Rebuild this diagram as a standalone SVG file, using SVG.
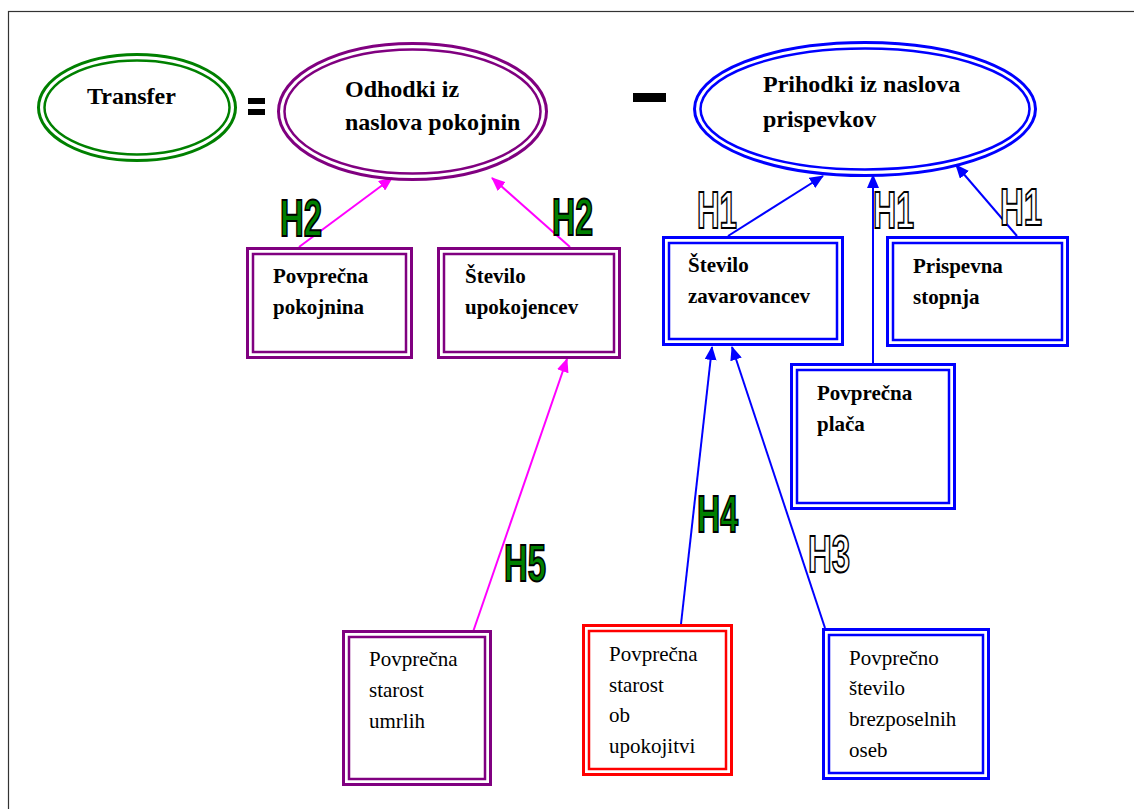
<svg xmlns="http://www.w3.org/2000/svg" width="1134" height="809" viewBox="0 0 1134 809">
<style>
.bg{fill:#fff}
.frame{fill:none;stroke:#333;stroke-width:1.2}
.o{fill:none;stroke-width:3}
.i{fill:none;stroke-width:2.5}
.pu{stroke:#800080}
.bl{stroke:#0000ff}
.rd{stroke:#ff0000}
.gr{stroke:#008000}
.tb{font-family:"Liberation Serif","Times New Roman",serif;font-weight:bold;font-size:21px;fill:#000}
.te{font-family:"Liberation Serif","Times New Roman",serif;font-weight:bold;font-size:24px;fill:#000}
.tn{font-family:"Liberation Serif","Times New Roman",serif;font-size:21px;fill:#000}
.lab{font-family:"Liberation Sans",Arial,sans-serif;font-weight:bold;font-size:51px;stroke:#000;stroke-width:2}
.lg{fill:#008000}
.lw{fill:#fff}
.cm{stroke:#ff00ff;stroke-width:2;fill:none}
.cb{stroke:#0000ff;stroke-width:2;fill:none}
</style>
<defs>
<marker id="am" markerWidth="14" markerHeight="12" refX="13" refY="6" orient="auto" markerUnits="userSpaceOnUse"><path d="M0,0 L14,6 L0,12 z" fill="#ff00ff"/></marker>
<marker id="ab" markerWidth="14" markerHeight="12" refX="13" refY="6" orient="auto" markerUnits="userSpaceOnUse"><path d="M0,0 L14,6 L0,12 z" fill="#0000ff"/></marker>
</defs>
<rect class="bg" x="0" y="0" width="1134" height="809"/>
<rect class="frame" x="8.5" y="11.5" width="1200" height="900"/>

<g id="connectors">
<line class="cm" x1="299" y1="247" x2="392" y2="178" marker-end="url(#am)"/>
<line class="cm" x1="570" y1="247" x2="492" y2="178" marker-end="url(#am)"/>
<line class="cm" x1="473" y1="632" x2="567" y2="359" marker-end="url(#am)"/>
<line class="cb" x1="728" y1="236" x2="823" y2="176" marker-end="url(#ab)"/>
<line class="cb" x1="873" y1="363" x2="873" y2="175" marker-end="url(#ab)"/>
<line class="cb" x1="1017" y1="236" x2="956" y2="165" marker-end="url(#ab)"/>
<line class="cb" x1="681" y1="624" x2="712" y2="347" marker-end="url(#ab)"/>
<line class="cb" x1="825" y1="628" x2="732" y2="347" marker-end="url(#ab)"/>
</g>

<g id="operators">
<rect x="248" y="98" width="17" height="6" fill="#000"/>
<rect x="248" y="109" width="17" height="6" fill="#000"/>
<rect x="633" y="93" width="33" height="9" fill="#000"/>
</g>

<g id="transfer">
<ellipse class="o gr" cx="137" cy="107.5" rx="98.5" ry="53"/>
<ellipse class="i gr" cx="137" cy="107.5" rx="92.5" ry="47"/>
<text class="te" x="87" y="104">Transfer</text>
</g>

<g id="odhodki">
<ellipse class="o pu" cx="412.5" cy="111.5" rx="134" ry="68"/>
<ellipse class="i pu" cx="412.5" cy="111.5" rx="128" ry="62"/>
<text class="te" x="345" y="97">Odhodki iz</text>
<text class="te" x="345" y="130">naslova pokojnin</text>
</g>

<g id="prihodki">
<ellipse class="o bl" cx="865" cy="109" rx="170.5" ry="66.5"/>
<ellipse class="i bl" cx="865" cy="109" rx="164.5" ry="60.5"/>
<text class="te" x="763" y="92">Prihodki iz naslova</text>
<text class="te" x="763" y="127">prispevkov</text>
</g>

<g id="povprecna-pokojnina">
<rect class="o pu" x="247.5" y="248.5" width="164" height="109"/>
<rect class="i pu" x="253" y="254" width="153" height="98"/>
<text class="tb" x="273" y="283">Povprečna</text>
<text class="tb" x="273" y="314">pokojnina</text>
</g>

<g id="stevilo-upokojencev">
<rect class="o pu" x="438.5" y="248.5" width="181" height="109"/>
<rect class="i pu" x="444" y="254" width="170" height="98"/>
<text class="tb" x="465" y="283">Število</text>
<text class="tb" x="465" y="314">upokojencev</text>
</g>

<g id="stevilo-zavarovancev">
<rect class="o bl" x="663.5" y="237.5" width="179" height="107"/>
<rect class="i bl" x="669" y="243" width="168" height="96"/>
<text class="tb" x="688" y="272">Število</text>
<text class="tb" x="688" y="303">zavarovancev</text>
</g>

<g id="prispevna-stopnja">
<rect class="o bl" x="887.5" y="237.5" width="180" height="108"/>
<rect class="i bl" x="893" y="243" width="169" height="97"/>
<text class="tb" x="913" y="273">Prispevna</text>
<text class="tb" x="913" y="304">stopnja</text>
</g>

<g id="povprecna-placa">
<rect class="o bl" x="791.5" y="364.5" width="163" height="144"/>
<rect class="i bl" x="797" y="370" width="152" height="133"/>
<text class="tb" x="817" y="400">Povprečna</text>
<text class="tb" x="817" y="431">plača</text>
</g>

<g id="starost-umrlih">
<rect class="o pu" x="343.5" y="631.5" width="147" height="153"/>
<rect class="i pu" x="349" y="637" width="136" height="142"/>
<text class="tn" x="369" y="666">Povprečna</text>
<text class="tn" x="369" y="697">starost</text>
<text class="tn" x="369" y="728">umrlih</text>
</g>

<g id="starost-upokojitvi">
<rect class="o rd" x="583.5" y="625.5" width="148" height="149"/>
<rect class="i rd" x="589" y="631" width="137" height="138"/>
<text class="tn" x="609" y="661">Povprečna</text>
<text class="tn" x="609" y="692">starost</text>
<text class="tn" x="609" y="722">ob</text>
<text class="tn" x="609" y="753">upokojitvi</text>
</g>

<g id="brezposelni">
<rect class="o bl" x="823.5" y="629.5" width="165" height="149"/>
<rect class="i bl" x="829" y="635" width="154" height="138"/>
<text class="tn" x="849" y="665">Povprečno</text>
<text class="tn" x="849" y="695">število</text>
<text class="tn" x="849" y="726">brezposelnih</text>
<text class="tn" x="849" y="757">oseb</text>
</g>

<g id="labels">
<text class="lab lg" x="280" y="236" textLength="42" lengthAdjust="spacingAndGlyphs">H2</text>
<text class="lab lg" x="552" y="235" textLength="41" lengthAdjust="spacingAndGlyphs">H2</text>
<text class="lab lw" x="697" y="228" textLength="40" lengthAdjust="spacingAndGlyphs">H1</text>
<text class="lab lw" x="873" y="228" textLength="41" lengthAdjust="spacingAndGlyphs">H1</text>
<text class="lab lw" x="1000" y="225" textLength="42" lengthAdjust="spacingAndGlyphs">H1</text>
<text class="lab lg" x="697" y="532" textLength="41" lengthAdjust="spacingAndGlyphs">H4</text>
<text class="lab lw" x="808" y="572" textLength="42" lengthAdjust="spacingAndGlyphs">H3</text>
<text class="lab lg" x="504" y="581" textLength="42" lengthAdjust="spacingAndGlyphs">H5</text>
</g>
</svg>
